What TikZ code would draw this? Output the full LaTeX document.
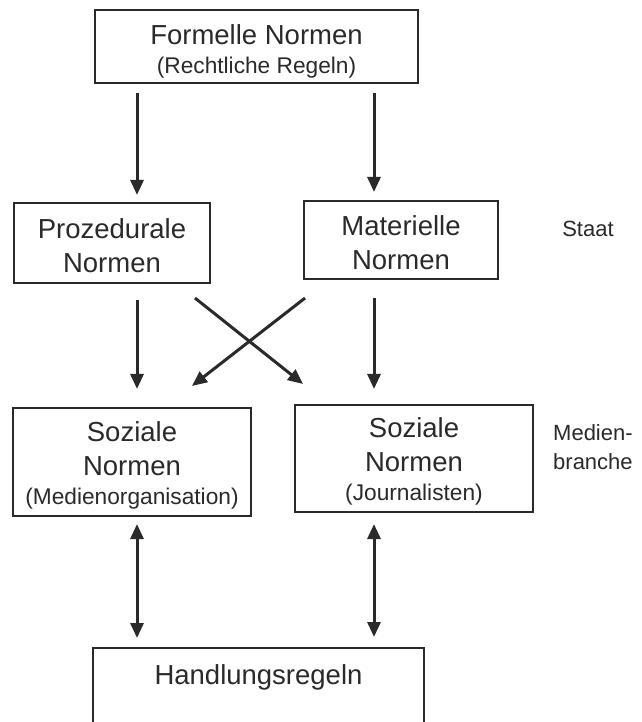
\documentclass[tikz,border=0pt]{standalone}
\usepackage{fontspec}
\setmainfont{Liberation Sans}
\usetikzlibrary{arrows.meta,calc}
\definecolor{ink}{HTML}{2A2A2A}
\tikzset{
  box/.style={draw=ink, line width=2.1pt, inner sep=0pt, align=center, text=ink,
    font=\fontsize{27.5}{34}\selectfont},
  side/.style={text=ink, inner sep=0pt, font=\fontsize{22}{29}\selectfont},
  arr/.style={draw=ink, line width=3pt, -{Triangle[length=15pt,width=13pt]}},
  darr/.style={draw=ink, line width=3pt, {Triangle[length=15pt,width=13pt]}-{Triangle[length=15pt,width=13pt]}},
}
\newcommand{\smalltext}[1]{{\fontsize{22.7}{27}\selectfont #1}}
\newcommand{\lift}[1]{\rule{0pt}{#1}}
\begin{document}
\begin{tikzpicture}[x=1pt,y=-1pt]
\useasboundingbox[fill=white] (0,0) rectangle (641,722);
\clip (0,0) rectangle (641,722);
\node[box, minimum width=323pt, minimum height=73pt] (top) at (256.5,46.5)
  {\lift{30pt}Formelle Normen\\[-5pt]\smalltext{(Rechtliche Regeln)}};
\node[box, minimum width=196pt, minimum height=80pt] (proz) at (112,243)
  {\lift{26pt}Prozedurale\\Normen};
\node[box, minimum width=194pt, minimum height=78pt] (mat) at (401,240)
  {\lift{26pt}Materielle\\Normen};
\node[box, minimum width=238pt, minimum height=108pt] (sozL) at (132,462)
  {\lift{26pt}Soziale\\Normen\\[-5pt]\smalltext{(Medienorganisation)}};
\node[box, minimum width=238pt, minimum height=107pt] (sozR) at (414,458.5)
  {\lift{26pt}Soziale\\Normen\\[-5pt]\smalltext{(Journalisten)}};
\node[box, anchor=north, minimum width=331pt, inner sep=0pt, text height=36pt, text depth=60pt] (hand) at (258.5,647)
  {Handlungsregeln};
\node[side] (staat) at (588,229) {Staat};
\node[side, anchor=west, align=left] (medien) at (553,447.5) {Medien-\\branche};
\coordinate (colL) at (137,0);
\coordinate (colR) at (374,0);
\draw[arr, shorten <=9pt, shorten >=7pt] (top.south -| colL) -- (proz.north -| colL);
\draw[arr, shorten <=9pt, shorten >=8pt] (top.south -| colR) -- (mat.north -| colR);
\draw[arr, shorten <=16pt, shorten >=18pt] (proz.south -| colL) -- (sozL.north -| colL);
\draw[arr, shorten <=18pt, shorten >=15pt] (mat.south -| colR) -- (sozR.north -| colR);
\draw[arr] ([xshift=83pt,yshift=-14pt]proz.south) -- ([xshift=-111pt,yshift=20pt]sozR.north);
\draw[arr] ([xshift=-96pt,yshift=-18pt]mat.south) -- ([xshift=60pt,yshift=21pt]sozL.north);
\draw[darr, shorten <=7pt, shorten >=9pt] (sozL.south -| colL) -- (hand.north -| colL);
\draw[darr, shorten <=11pt, shorten >=10pt] (sozR.south -| colR) -- (hand.north -| colR);
\end{tikzpicture}
\end{document}
